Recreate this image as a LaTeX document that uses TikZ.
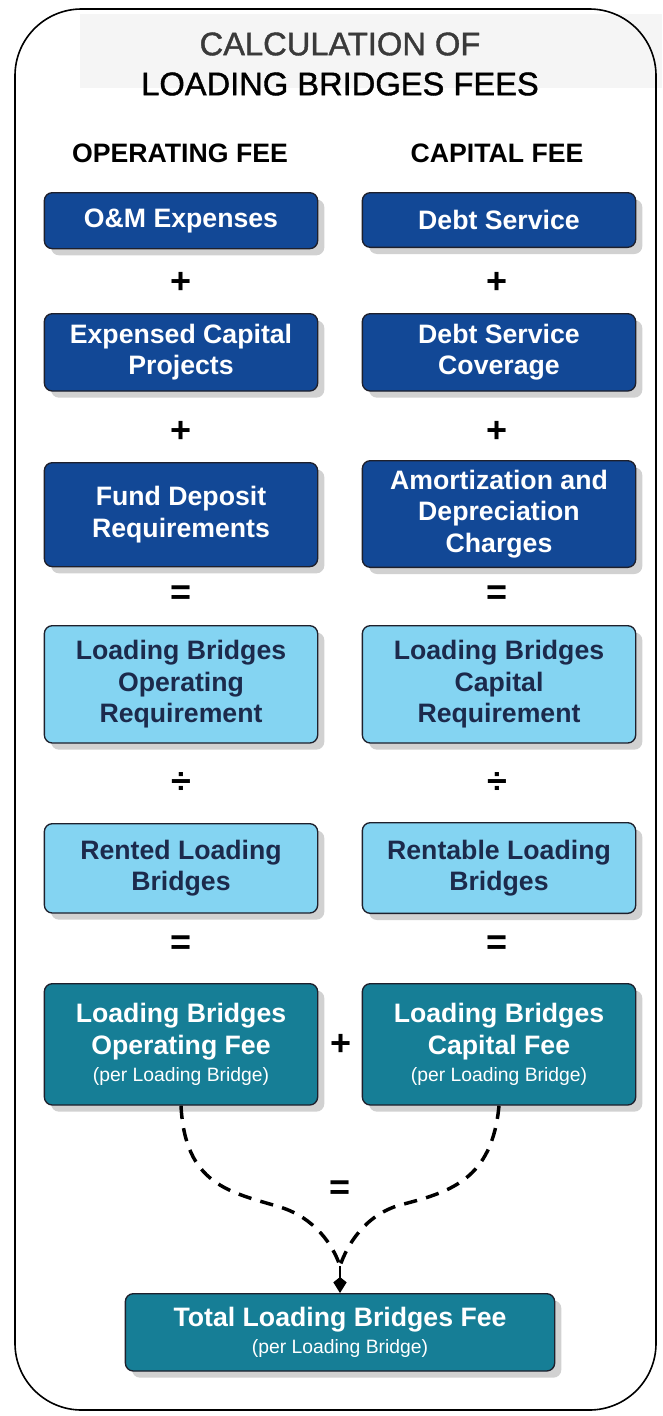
\documentclass[tikz,border=0pt]{standalone}
\usepackage{fontspec}
\setmainfont{Liberation Sans}
\usetikzlibrary{arrows.meta,shadows,positioning}

\definecolor{opblue}{RGB}{18,72,150}
\definecolor{reqblue}{RGB}{132,212,242}
\definecolor{reqtext}{RGB}{28,42,76}
\definecolor{feeteal}{RGB}{22,126,150}
\definecolor{boxline}{RGB}{30,32,44}
\definecolor{titlegray}{RGB}{58,58,58}

\begin{document}
\begin{tikzpicture}
[x=0.75pt,y=-0.75pt,
every node/.style={align=center,font=\bfseries\fontsize{20}{23.5}\selectfont},
box/.style={draw=boxline,line width=1pt,rounded corners=6pt,minimum width=205pt,anchor=north,
  drop shadow={shadow xshift=5pt,shadow yshift=-5pt,fill=black!20,opacity=.9}},
darkbox/.style={box,fill=opblue,text=white},
lightbox/.style={box,fill=reqblue,text=reqtext},
feebox/.style={box,fill=feeteal,text=white},
sign/.style={font=\bfseries\fontsize{27}{27}\selectfont},
link/.style={draw,line width=2.6pt,dash pattern=on 10pt off 7pt}]
\useasboundingbox (0,0) rectangle (662,1416);

% frame and heading
\fill[black!4] (80,14) rectangle (662,88);
\draw[line width=1.2pt,rounded corners=50pt] (15,9) rectangle (656,1410);
\node[font=\mdseries\fontsize{24.5}{30}\selectfont\addfontfeatures{FakeBold=1.2}] (title) at (340,64)
  {\textcolor{titlegray}{CALCULATION OF}\\LOADING BRIDGES FEES};
\node (ophead) at (180,153) {OPERATING FEE};
\node (caphead) at (497,153) {CAPITAL FEE};

% operating column
\node[darkbox,minimum height=42pt] (om) at (181,192) {O\&M Expenses};
\node[sign] at (181,283) {+};
\node[darkbox,minimum height=58pt] (exp) at (181,313) {Expensed Capital\\Projects};
\node[sign] at (181,432) {+};
\node[darkbox,minimum height=78pt] (fund) at (181,462) {Fund Deposit\\Requirements};
\node[sign] at (181,595) {=};
\node[lightbox,minimum height=88pt] (opreq) at (181,625) {Loading Bridges\\Operating\\Requirement};
\node[sign] at (181,783) {÷};
\node[lightbox,minimum height=67pt] (rented) at (181,823) {Rented Loading\\Bridges};
\node[sign] at (181,945) {=};
\node[feebox,minimum height=91pt] (opfee) at (181,983)
  {Loading Bridges\\Operating Fee\\[-3pt]{\mdseries\fontsize{14.5}{17}\selectfont(per Loading Bridge)}};

% capital column
\node[darkbox,minimum height=41pt] (debt) at (499,192) {Debt Service};
\node[sign] at (497,283) {+};
\node[darkbox,minimum height=58pt] (cover) at (499,313) {Debt Service\\Coverage};
\node[sign] at (497,432) {+};
\node[darkbox,minimum height=80pt] (amort) at (499,460) {Amortization and\\Depreciation\\Charges};
\node[sign] at (497,595) {=};
\node[lightbox,minimum height=88pt] (capreq) at (499,625) {Loading Bridges\\Capital\\Requirement};
\node[sign] at (497,783) {÷};
\node[lightbox,minimum height=68pt] (rentable) at (499,822) {Rentable Loading\\Bridges};
\node[sign] at (497,945) {=};
\node[feebox,minimum height=91pt] (capfee) at (499,983)
  {Loading Bridges\\Capital Fee\\[-3pt]{\mdseries\fontsize{14.5}{17}\selectfont(per Loading Bridge)}};

\node[sign] at (341,1045) {+};

% total
\node[feebox,minimum width=322pt,minimum height=58pt] (total) at (340,1293)
  {Total Loading Bridges Fee\\[-3pt]{\mdseries\fontsize{14.5}{17}\selectfont(per Loading Bridge)}};
\coordinate (join) at (340,1266);
\draw[link] (opfee.south) .. controls (185,1185) and (230,1192) .. (280,1207)
  .. controls (315,1218) and (333,1245) .. (join);
\draw[link] (capfee.south) .. controls (492,1180) and (450,1192) .. (400,1205)
  .. controls (365,1215) and (347,1245) .. (join);
\draw[line width=1.5pt,-{Kite[length=12pt,width=10pt,inset=4pt]}] (join) -- (total.north);
\node[sign] at (340,1190) {=};
\end{tikzpicture}
\end{document}
